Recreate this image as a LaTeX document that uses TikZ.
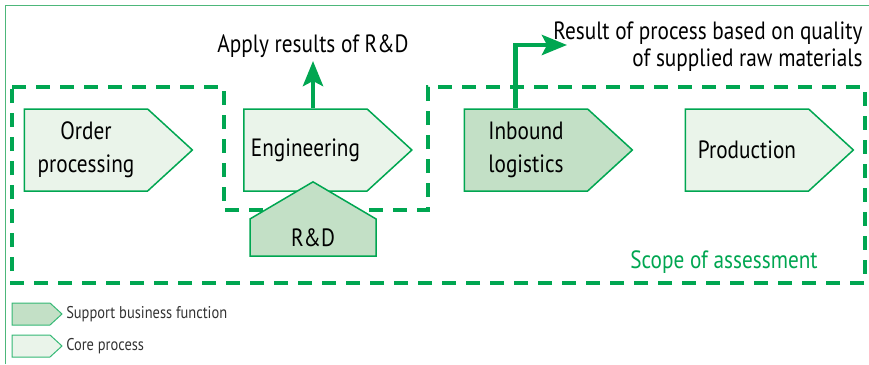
\documentclass[tikz,border=0pt]{standalone}
\usepackage{fontspec}
\setmainfont{PT Sans}[FakeStretch=0.85]
\usetikzlibrary{shapes.symbols,arrows.meta,positioning}
\definecolor{dgreen}{HTML}{00A651}
\definecolor{framegreen}{HTML}{4DB77A}
\definecolor{corefill}{HTML}{EAF4EA}
\definecolor{suppfill}{HTML}{C3E0C6}
\begin{document}
\begin{tikzpicture}[x=1pt, y=-1pt,
    proc/.style={signal, signal to=east, signal pointer angle=85, draw=dgreen, line width=1.5pt,
        minimum width=168pt, minimum height=82pt, inner sep=0pt, align=center,
        font=\fontsize{25}{33}\selectfont},
    core/.style={proc, fill=corefill},
    support/.style={proc, fill=suppfill},
    legbox/.style={signal, signal to=east, signal pointer angle=85, draw=dgreen!80, line width=1pt,
        minimum width=50pt, minimum height=22pt, inner sep=0pt},
    flow/.style={draw=dgreen, line width=4.5pt, -{Stealth[length=25pt, width=20pt, inset=5pt]}},
    scopeline/.style={draw=dgreen, line width=4pt, dash pattern=on 14pt off 10pt},
    lbl/.style={font=\fontsize{25}{27}\selectfont},
    legtext/.style={anchor=west, text=black!80, font=\fontsize{17}{20}\selectfont}
]
    \useasboundingbox (0,0) rectangle (869,364);

    % outer frame (top and left only)
    \draw[framegreen, line width=1pt] (5,364) -- (5,5.5) -- (869,5.5);

    % scope of assessment
    \draw[scopeline] (12,87) -- (224,87) -- (224,210) -- (428,210) -- (428,87)
        -- (865,87) -- (865,283) -- (12,283) -- cycle;
    \node[text=dgreen, lbl, anchor=base] (scope) at (724,268) {Scope of assessment};

    % value chain
    \node[core] (order) at (86,150) {Order\\processing};
    \node[core] (eng) at (305.5,150) {Engineering};
    \node[support] (inb) at (526,150) {Inbound\\logistics};
    \node[core] (prod) at (747,150) {Production};
    \node[signal, signal to=north, signal pointer angle=119, draw=dgreen, line width=1.5pt,
        fill=suppfill, minimum width=126pt, minimum height=50pt, inner sep=0pt,
        font=\fontsize{25}{30}\selectfont] (rd) at (313,237.5) {R\&D};

    % outputs
    \node[lbl, anchor=base] (apply) at (313,52) {Apply results of R\&D};
    \coordinate (applyend) at (313,61);
    \draw[flow] (rd.north |- eng.north) -- (applyend);

    \node[lbl, anchor=north east, align=right] (result) at (866,18)
        {Result of process based on quality\\of supplied raw materials};
    \coordinate (resend) at (567,45);
    \draw[flow] ([xshift=52pt]inb.north west) |- (resend);

    % legend
    \node[legbox, fill=suppfill] (legsupp) at (31,314) {};
    \node[legtext] at (legsupp.east) {Support business function};
    \node[legbox, fill=corefill] (legcore) at (31,346) {};
    \node[legtext] at (legcore.east) {Core process};
\end{tikzpicture}
\end{document}
